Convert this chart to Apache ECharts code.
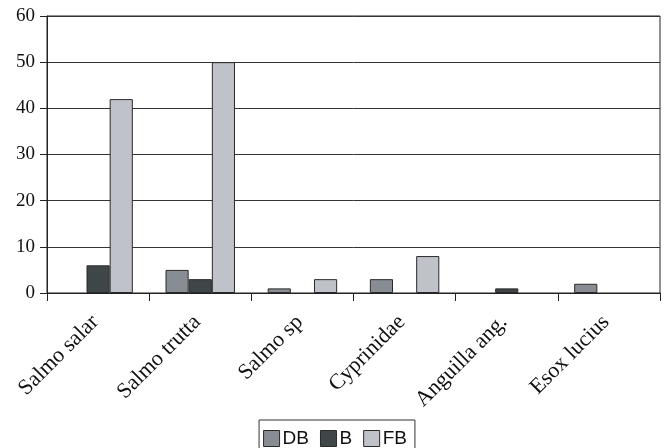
<!DOCTYPE html>
<html>
<head>
<meta charset="utf-8">
<script src="https://cdn.jsdelivr.net/npm/echarts@6/dist/echarts.min.js"></script>
<style>html,body{margin:0;padding:0;background:#fff}#chart{width:670px;height:448px}</style>
</head>
<body>
<div id="chart"></div>
<script>
// Fish taxa and counts per sampling group
const categories = ['Salmo salar', 'Salmo trutta', 'Salmo sp', 'Cyprinidae', 'Anguilla ang.', 'Esox lucius'];
const dbValues = [0, 5, 1, 3, 0, 2];
const bValues = [6, 3, 0, 0, 1, 0];
const fbValues = [42, 50, 3, 8, 0, 0];
const yTicks = [0, 10, 20, 30, 40, 50, 60];

const chart = echarts.init(document.getElementById('chart'));
const serif = 'Liberation Serif';
const barStyle = (c) => ({ color: c, borderColor: '#2a2a2a', borderWidth: 1 });
// zero counts draw no outline
const barData = (vals) => vals.map(v => v === 0 ? { value: v, itemStyle: { borderWidth: 0 } } : v);

chart.setOption({
  animation: false,
  grid: { left: 47, right: 10, top: 16, bottom: 155, show: true, borderColor: '#222', borderWidth: 1 },
  legend: {
    top: 420, left: 'center',
    icon: 'rect',
    itemWidth: 16, itemHeight: 16, itemGap: 11,
    borderColor: '#333', borderWidth: 1, padding: [9, 8, 9, 4],
    textStyle: { fontFamily: 'Liberation Sans', fontSize: 19, color: '#111', padding: [0, 0, 0, -2] },
    itemStyle: { borderColor: '#2a2a2a', borderWidth: 1 },
    data: ['DB', 'B', 'FB']
  },
  xAxis: {
    type: 'category', data: categories,
    axisLine: { lineStyle: { color: '#222', width: 1 } },
    axisTick: { show: true, length: 8, lineStyle: { color: '#222' } },
    axisLabel: { rotate: 45, fontFamily: serif, fontSize: 22, color: '#111', margin: 23, padding: [0, 4, 0, 0] }
  },
  yAxis: {
    type: 'value', min: yTicks[0], max: yTicks[yTicks.length - 1], interval: 10,
    axisLine: { show: true, lineStyle: { color: '#222' } },
    axisTick: { show: true, length: 7, lineStyle: { color: '#222' } },
    splitLine: { lineStyle: { color: '#333', width: 1 } },
    axisLabel: { fontFamily: serif, fontSize: 19, color: '#111', margin: 12 }
  },
  series: [
    { name: 'DB', type: 'bar', data: barData(dbValues), barGap: '0%', barCategoryGap: '32%', itemStyle: barStyle('#878d93') },
    { name: 'B', type: 'bar', data: barData(bValues), itemStyle: barStyle('#3f4647') },
    { name: 'FB', type: 'bar', data: barData(fbValues), itemStyle: barStyle('#c0c2c9') }
  ]
});
</script>
</body>
</html>
